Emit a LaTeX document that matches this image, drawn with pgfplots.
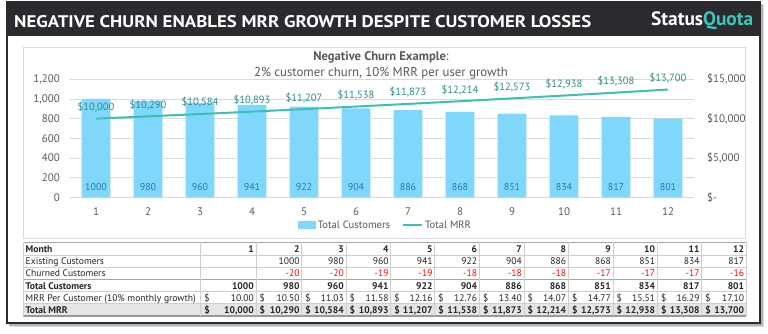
\documentclass[border=0pt]{standalone}
\usepackage{graphicx}
\usepackage{fontspec}
\setmainfont{PT Sans}
\usepackage{pgfplots}
\pgfplotsset{compat=1.18}
\definecolor{hdr}{HTML}{2B2B2F}
\definecolor{quota}{HTML}{3CC5B8}
\definecolor{barcol}{HTML}{7FD8FB}
\definecolor{linecol}{HTML}{3DBFB2}
\definecolor{bartxt}{HTML}{2277CC}
\definecolor{mrrtxt}{HTML}{2D8C86}
\definecolor{labcol}{HTML}{595959}
\definecolor{gridcol}{HTML}{D9D9D9}
\definecolor{tabline}{HTML}{CFCFCF}
\definecolor{tabtxt}{HTML}{262626}
\newcommand\tf{\fontsize{9.6bp}{11bp}\selectfont}
\begin{document}
\begin{tikzpicture}
\begin{scope}[x=1bp,y=1bp]
\path[use as bounding box] (0,0) rectangle (768,-333);
\fill[white] (0,0) rectangle (768,-333);
% shadow
\fill[black!12] (10,-5) rectangle (764,-327);
\fill[black!30] (9,-3.5) rectangle (762.5,-325.5);
% panel and frame
\fill[white] (7,-1.5) rectangle (760,-323);
\draw[hdr, line width=2bp] (7,-1.5) rectangle (760,-323);
\fill[hdr] (6,-0.5) rectangle (761,-36);
\node[anchor=base west, inner sep=0pt, text=white] at (14,-27)
  {\resizebox{577bp}{12bp}{\bfseries NEGATIVE CHURN ENABLES MRR GROWTH DESPITE CUSTOMER LOSSES}};
\node[anchor=base west, inner sep=0pt] at (651,-25.5)
  {\resizebox{102bp}{!}{\bfseries\textcolor{white}{Status}\textcolor{quota}{Quota}}};
% chart box
\draw[gridcol, line width=0.8bp] (23,-47) rectangle (745.5,-238.5);
% chart title
\node[anchor=center, text=labcol, inner sep=0pt] at (381,-57)
  {\fontsize{12.6bp}{14bp}\selectfont\bfseries Negative Churn Example\mdseries:};
\node[anchor=center, text=labcol, inner sep=0pt] at (381,-73)
  {\fontsize{12.8bp}{14bp}\selectfont 2\% customer churn, 10\% MRR per user growth};
\end{scope}

\begin{axis}[
  at={(70bp,-197.3bp)}, anchor=south west, scale only axis,
  width=624bp, height=118bp,
  xmin=0.5, xmax=12.5, ymin=0, ymax=1200,
  xtick={1,...,12}, ytick={0,200,...,1200},
  axis line style={draw=none}, major tick length=0pt,
  ymajorgrids, grid style={draw=gridcol, line width=0.7bp},
  /pgf/number format/assume math mode=true,
  /pgf/number format/1000 sep={,},
  ticklabel style={font=\fontsize{11bp}{13bp}\selectfont, text=labcol, inner sep=0pt},
  yticklabel style={xshift=-10bp},
  xticklabel style={yshift=-10bp},
  clip=false,
]
\addplot[ybar, bar width=28.7bp, bar shift=0pt, fill=barcol, draw=none]
  coordinates {(1,1000) (2,980) (3,960) (4,941) (5,922) (6,904) (7,886) (8,868) (9,851) (10,834) (11,817) (12,801)};
\addplot[draw=none, mark=none, nodes near coords, point meta=explicit symbolic,
  every node near coord/.style={anchor=center, yshift=10.5bp, font=\fontsize{10bp}{12bp}\selectfont, text=bartxt, inner sep=0pt}]
  coordinates {(1,0)[1000] (2,0)[980] (3,0)[960] (4,0)[941] (5,0)[922] (6,0)[904] (7,0)[886] (8,0)[868] (9,0)[851] (10,0)[834] (11,0)[817] (12,0)[801]};
\end{axis}

\begin{axis}[
  at={(70bp,-197.3bp)}, anchor=south west, scale only axis,
  width=624bp, height=118bp,
  xmin=0.5, xmax=12.5, ymin=0, ymax=15000,
  axis y line*=right, hide x axis,
  scaled y ticks=false,
  ytick={0,5000,10000,15000},
  yticklabels={{\$-},{\$5,000},{\$10,000},{\$15,000}},
  axis line style={draw=none}, major tick length=0pt,
  ticklabel style={font=\fontsize{11bp}{13bp}\selectfont, text=labcol, inner sep=0pt},
  yticklabel style={xshift=13bp},
  clip=false,
  legend style={at={(0.506,-0.235)}, anchor=center, draw=none, fill=none,
    legend columns=2, font=\fontsize{10.6bp}{12bp}\selectfont, text=labcol,
    /tikz/every even column/.append style={column sep=10bp}},
  legend image code/.code={},
]
\addlegendimage{legend image code/.code={\fill[barcol] (0bp,-3.5bp) rectangle (17bp,3.5bp);}}
\addlegendentry{Total Customers}
\addplot[linecol, line width=2bp, mark=none, nodes near coords, point meta=explicit symbolic,
  legend image code/.code={\draw[linecol, line width=2bp] (0bp,0bp) -- (19bp,0bp);},
  every node near coord/.style={anchor=center, yshift=11.5bp, font=\fontsize{10.5bp}{12bp}\selectfont, text=mrrtxt, inner sep=0pt}]
  coordinates {(1,10000)[\$10{,}000] (2,10290)[\$10{,}290] (3,10584)[\$10{,}584] (4,10893)[\$10{,}893]
   (5,11207)[\$11{,}207] (6,11538)[\$11{,}538] (7,11873)[\$11{,}873] (8,12214)[\$12{,}214]
   (9,12573)[\$12{,}573] (10,12938)[\$12{,}938] (11,13308)[\$13{,}308] (12,13700)[\$13{,}700]};
\addlegendentry{Total MRR}
\end{axis}

\begin{scope}[x=1bp,y=1bp, every node/.style={inner sep=0pt, font=\tf, text=tabtxt}]
% Total MRR fill
\fill[black!10] (23,-303.7) rectangle (746.3,-316);
% horizontal lines
\foreach \y in {255,267.3,291.7,303.7}
  \draw[tabline, line width=0.6bp] (23,-\y) -- (746.3,-\y);
\draw[black!35, line width=1bp] (23,-242.3) -- (746.3,-242.3);
\draw[black!35, line width=1.2bp] (23,-279.4) -- (746.3,-279.4);
\draw[black!40, line width=1.6bp] (23,-316.2) -- (746.3,-316.2);
% vertical lines
\foreach \x in {23,200.7,256,301.7,346,390.7,434.7,479.3,524,568.3,613,657.3,701.7,746.3}
  \draw[tabline, line width=0.6bp] (\x,-242.3) -- (\x,-316);
% row labels
\node[anchor=base west] at (25.5,-252.5) {\bfseries Month};
\node[anchor=base west] at (25.5,-264.8) {Existing Customers};
\node[anchor=base west] at (25.5,-276.8) {Churned Customers};
\node[anchor=base west] at (25.5,-289.3) {\bfseries Total Customers};
\node[anchor=base west] at (25.5,-301.3) {MRR Per Customer (10\% monthly growth)};
\node[anchor=base west] at (25.5,-313.5) {\bfseries Total MRR};
\foreach \l/\r/\m/\ex/\ch/\tc/\mpc/\tm in {
200.7/256/1/{}/{}/1000/10.00/{10,000},
256/301.7/2/1000/-20/980/10.50/{10,290},
301.7/346/3/980/-20/960/11.03/{10,584},
346/390.7/4/960/-19/941/11.58/{10,893},
390.7/434.7/5/941/-19/922/12.16/{11,207},
434.7/479.3/6/922/-18/904/12.76/{11,538},
479.3/524/7/904/-18/886/13.40/{11,873},
524/568.3/8/886/-18/868/14.07/{12,214},
568.3/613/9/868/-17/851/14.77/{12,573},
613/657.3/10/851/-17/834/15.51/{12,938},
657.3/701.7/11/834/-17/817/16.29/{13,308},
701.7/746.3/12/817/-16/801/17.10/{13,700}}
{
  \node[anchor=base east] at (\r-2,-252.5) {\bfseries\m};
  \node[anchor=base east] at (\r-2,-264.8) {\ex};
  \node[anchor=base east, text=red] at (\r-2,-276.8) {\ch};
  \node[anchor=base east] at (\r-2,-289.3) {\bfseries\tc};
  \node[anchor=base west] at (\l+3.5,-301.3) {\$};
  \node[anchor=base east] at (\r-2,-301.3) {\mpc};
  \node[anchor=base west] at (\l+3.5,-313.5) {\bfseries\$};
  \node[anchor=base east] at (\r-2,-313.5) {\bfseries\tm};
}
\end{scope}
\end{tikzpicture}
\end{document}
